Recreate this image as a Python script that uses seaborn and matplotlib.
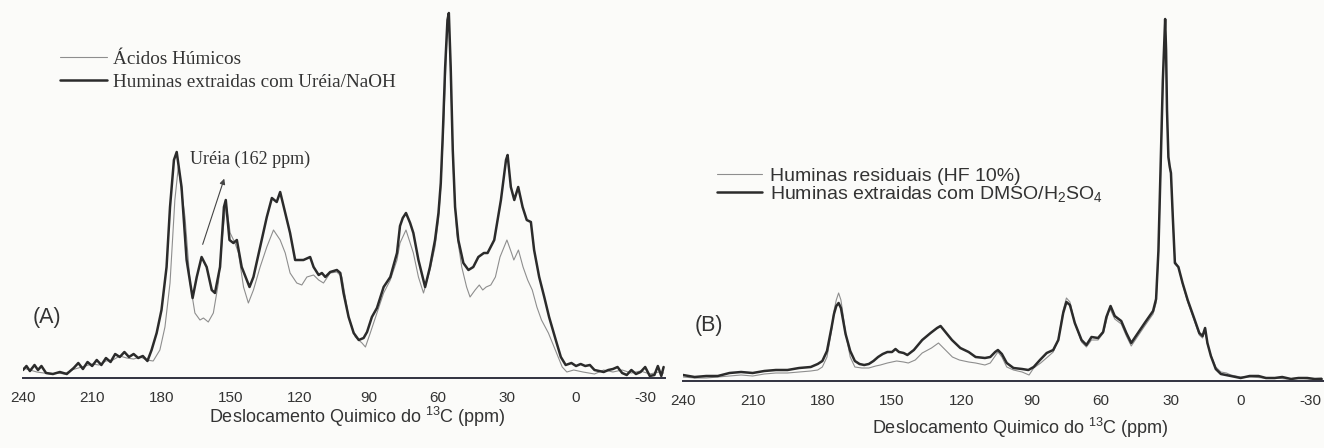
import numpy as np
import matplotlib
matplotlib.use("Agg")
import matplotlib.pyplot as plt
import seaborn as sns
from matplotlib.ticker import MultipleLocator

sns.set_style("white")
plt.rcParams['font.family'] = ['Liberation Sans', 'DejaVu Sans']
plt.rcParams['axes.unicode_minus'] = False
plt.rcParams['mathtext.fontset'] = 'custom'
plt.rcParams['mathtext.rm'] = 'Liberation Sans'
plt.rcParams['mathtext.it'] = 'Liberation Sans'

# ---- panel A: humic acids vs humins extracted with urea/NaOH ----
ppm_a_thick = [240, 238.5, 237, 235, 233.5, 232, 230, 227, 224, 221, 218, 216, 214, 212, 210,
               208, 206, 204, 202, 200, 198, 196, 194, 192, 190, 188, 186, 184.2, 182, 179.9,
               177.7, 176.2, 174.5, 173.3, 171.2, 169, 166.4, 164.6, 162.5, 160.3, 158.1, 156.7,
               154.5, 152.8, 152, 150.4, 148.7, 147.2, 145.1, 142.9, 141.7, 140, 137.1, 134.2,
               132, 129.9, 128.4, 126.2, 124.1, 121.9, 120.4, 118.3, 115.4, 113.9, 111.7, 110.3,
               108.8, 106.7, 103.8, 102.3, 100.9, 98.7, 96.5, 94.3, 92.2, 90.7, 88.6, 86.4, 83.5,
               80.6, 77.7, 76.4, 75.2, 73.8, 72, 70.6, 68.4, 65.5, 63.4, 61.2, 59.7, 58.7, 57.8,
               56.8, 55.8, 55.2, 54.4, 53.5, 52.5, 51.1, 48.9, 46.7, 44.6, 42.4, 40, 38.4,
               35.5, 32.6, 30.4, 29.7, 28.3, 26.8, 25.1, 23.2, 21.4, 19.6, 18.2, 16, 13.8,
               11.7, 8.8, 6.6, 4.5, 2, 0, -2, -4, -6, -8, -10, -12, -14, -16, -18, -20, -22,
               -24, -26, -28, -30, -32, -34, -35.5, -37, -38]
int_a_thick = [8, 12, 7, 13, 8, 12, 5, 4, 6, 4, 10, 15, 9, 16, 12,
               18, 13, 20, 16, 24, 21, 26, 21, 24, 20, 22, 17, 28, 45, 68,
               111, 171, 218, 226, 191, 118, 80, 101, 121, 111, 88, 85,
               111, 171, 178, 138, 135, 138, 111, 98, 91, 101, 131, 161,
               180, 176, 186, 165, 145, 118, 118, 118, 121, 111, 103, 105,
               101, 106, 108, 105, 85, 61, 45, 38, 40, 46, 61, 70, 91,
               101, 125, 152, 160, 165, 155, 145, 118, 91, 111, 138, 165, 195, 245,
               311, 358, 365, 311, 228, 171, 138, 115, 108, 111, 121, 125, 125,
               138, 178, 218, 223, 191, 178, 191, 171, 158, 156, 128, 101, 81,
               61, 38, 21, 13, 15, 12, 14, 12, 13, 8, 7, 6, 8, 9, 11, 5, 3,
               8, 4, 6, 11, 2, 3, 12, 2, 11]

ppm_a_thin = [240, 237, 234, 231, 228, 225, 222, 219, 216, 213, 210, 207, 204, 201, 198,
              195, 192, 189, 186.4, 183.5, 180.6, 178.4, 176.2, 174.1, 172.6, 169.7, 167.5,
              165.4, 163.2, 161.7, 159.6, 157.4, 155.2, 153.3, 151.9, 150.1, 148, 146.5, 144.3,
              142.2, 140, 137.1, 134.2, 131.3, 128.4, 126.2, 124.1, 121.2, 119, 116.8, 113.9,
              111.7, 109.6, 106.7, 103.8, 101.6, 98.7, 95.8, 92.9, 91.4, 89.3, 86.4, 83.5, 80.6,
              77.7, 76.4, 73.8, 70.6, 68.4, 66.2, 63.4, 61.2, 59.7, 58.7, 57.5, 56.1, 55.2, 54.4,
              53.2, 51.8, 49.6, 47.5, 46, 43.8, 42, 40.5, 39, 37, 35, 33, 30, 28, 27, 25, 23, 21,
              19, 17, 15, 12, 9, 6, 4, 1, -3, -8, -12, -16, -20, -24, -28, -32, -36, -38]
int_a_thin = [10, 8, 6, 5, 4, 5, 4, 8, 10, 12, 14, 13, 17, 18, 22,
              20, 19, 21, 18, 17, 28, 51, 95, 178, 211, 161, 95,
              65, 58, 60, 56, 65, 95, 145, 175, 145, 135, 125, 91,
              75, 88, 111, 131, 148, 138, 125, 105, 95, 93, 101, 103,
              98, 95, 105, 106, 101, 61, 41, 35, 31, 45, 65, 85, 98,
              118, 135, 148, 125, 101, 85, 108, 131, 158, 191, 251, 338, 358, 301,
              205, 145, 111, 91, 81, 88, 93, 88, 91, 93, 101, 121, 138, 125, 118, 128, 111, 98,
              88, 71, 58, 45, 28, 11, 6, 8, 6, 4, 8, 6, 8, 5, 7, 4, 6, 5]

# ---- panel B: residual humins vs humins extracted with DMSO/H2SO4 ----
ppm_b_thick = [240, 235, 230, 225, 220, 215, 210, 205, 200, 195, 190, 185, 182, 180, 178,
               176, 175, 174, 173, 172, 171, 170, 168, 166, 164, 162, 160, 158, 156, 154,
               152, 150, 148.5, 147, 145, 143.4, 140.6, 137, 133.4, 130.6, 129.1, 127, 124.2,
               120.6, 117, 114, 110, 107.7, 105.6, 104.4, 102.7, 100.6, 97.7, 94, 91.3, 89,
               86.3, 83.4, 80.6, 78.4, 76.3, 74.9, 73.4, 71.3, 68.4, 66.3, 64.1, 61.3, 59.1,
               57.7, 55.9, 54.1, 51.3, 49.1, 47, 44.1, 41.2, 37.6, 36.3, 35.3, 34.4, 33.4,
               32.4, 32.0, 31.6, 31.0, 30.4, 29.9, 29.1, 28.2, 26.7, 24.9, 22.7, 19.8, 17.7,
               16.3, 15.2, 14.2, 12.7, 10.6, 8.4, 4.1, -0.1, -4, -7.8, -11, -14.8, -18, -21.8,
               -25, -28.8, -32, -35]
int_b_thick = [6, 4, 5, 5, 8, 9, 8, 10, 11, 11, 13, 14, 17, 20, 30,
               54, 67, 75, 78, 73, 60, 47, 30, 20, 17, 16, 17, 20, 24, 27,
               29, 29, 32, 29, 28, 26, 31, 41, 48, 53, 55, 49, 41,
               33, 29, 24, 23, 24, 29, 31, 27, 18, 13, 12, 11, 14,
               21, 28, 31, 41, 68, 79, 76, 58, 41, 36, 44, 43, 49,
               64, 75, 65, 60, 48, 38, 48, 58, 70, 82, 130, 210, 300,
               362, 331, 271, 224, 214, 208, 164, 118, 114, 98, 81, 62, 48,
               45, 53, 38, 25, 12, 7, 5, 3, 5, 5, 3, 3, 4, 2,
               3, 3, 2, 2]

ppm_b_thin = [240, 235, 230, 225, 220, 215, 210, 205, 200, 195, 190, 185, 182, 180, 178,
              176, 175, 174, 173, 172, 171, 170, 168, 166, 163, 160, 157, 155, 152, 150,
              148, 145, 143, 140, 137, 133, 130, 127, 124, 121, 117, 114, 110, 107.7, 104.4,
              102.7, 100.6, 97.7, 94, 91, 89, 86, 83, 80.6, 78.4, 76.3, 74.9, 73.4, 71.3,
              68.4, 66.3, 64.1, 61.3, 59, 56.3, 54.1, 51.3, 49.1, 47, 44.1, 41.2, 37.6, 36.3,
              35.3, 34.4, 33.4, 32.4, 32.0, 31.6, 31.0, 30.4, 29.9, 29.1, 28.2, 26.7, 24.9,
              22.7, 19.8, 17.7, 16.3, 15.2, 14.2, 12.7, 10.6, 8.4, 6, 4.1, 0, -5, -10, -15,
              -20, -25, -30, -35]
int_b_thin = [4, 3, 3, 4, 5, 6, 5, 7, 8, 8, 9, 10, 11, 14, 24,
              51, 70, 81, 88, 81, 65, 48, 24, 14, 13, 13, 15, 16, 18, 19,
              20, 19, 18, 21, 28, 33, 38, 31, 24, 21, 19, 18, 16, 18, 29,
              24, 14, 11, 9, 6, 13, 18, 24, 29, 41, 71, 83, 79, 58,
              39, 34, 41, 41, 48, 73, 62, 57, 45, 35, 45, 55, 67, 78,
              126, 205, 296, 358, 328, 268, 222, 213, 206, 163, 120, 114, 97,
              79, 60, 46, 43, 50, 37, 26, 14, 9, 8, 6, 4, 4, 3, 3,
              2, 3, 2, 3]

labels_a = ['Ácidos Húmicos', 'Huminas extraidas com Uréia/NaOH']
labels_b = ['Huminas residuais (HF 10%)', r'Huminas extraidas com DMSO/H$_2$SO$_4$']
xlabel = r'Deslocamento Quimico do $^{13}$C (ppm)'
ticks = [240, 210, 180, 150, 120, 90, 60, 30, 0, -30]

thick_c = '#2b2b2b'
thin_c = '#8e8e8e'
axis_c = '#30313f'

W, H = 1324, 448
fig = plt.figure(figsize=(W / 100, H / 100), dpi=100)
fig.patch.set_facecolor('#fbfbf9')

axA = fig.add_axes([23 / W, (H - 378) / H, 642 / W, 378 / H])
axB = fig.add_axes([683 / W, (H - 381) / H, 641 / W, 381 / H])

for ax, (xt, yt, xk, yk, labs) in zip(
        [axA, axB],
        [(ppm_a_thin, int_a_thin, ppm_a_thick, int_a_thick, labels_a),
         (ppm_b_thin, int_b_thin, ppm_b_thick, int_b_thick, labels_b)]):
    sns.lineplot(x=xt, y=yt, ax=ax, color=thin_c, lw=0.8, sort=False,
                 estimator=None, label=labs[0])
    sns.lineplot(x=xk, y=yk, ax=ax, color=thick_c, lw=1.8, sort=False,
                 estimator=None, label=labs[1])
    ax.set_facecolor('none')
    for s in ['left', 'right', 'top']:
        ax.spines[s].set_visible(False)
    ax.spines['bottom'].set_color(axis_c)
    ax.spines['bottom'].set_linewidth(1.4)
    ax.set_xticks(ticks)
    ax.set_xticklabels([str(t) for t in ticks])
    ax.xaxis.set_minor_locator(MultipleLocator(15))
    ax.tick_params(axis='x', which='major', direction='out', length=4.5, width=1.1,
                   color=axis_c, labelsize=11, pad=5, labelcolor='#333333')
    ax.tick_params(axis='x', which='minor', direction='out', length=3.2, width=1.0,
                   color=axis_c)
    ax.set_yticks([])
    ax.set_xlabel('')
    ax.set_ylabel('')

axA.set_xlim(240, -38.6)
axA.set_ylim(0, 378)
axB.set_xlim(240, -36)
axB.set_ylim(0, 381)

# legends
legA = axA.legend(loc='upper left', bbox_to_anchor=(60 / W, 1 - 50.5 / H),
                  bbox_transform=fig.transFigure, frameon=False, borderpad=0,
                  borderaxespad=0, handlelength=2.45, handletextpad=0.3,
                  labelspacing=0.31,
                  prop={'family': 'Liberation Serif', 'size': 13.75})
for t in legA.get_texts():
    t.set_color('#333333')
legB = axB.legend(loc='upper left', bbox_to_anchor=(717 / W, 1 - 167.5 / H),
                  bbox_transform=fig.transFigure, frameon=False, borderpad=0,
                  borderaxespad=0, handlelength=2.3, handletextpad=0.4,
                  labelspacing=-0.05,
                  prop={'family': 'Liberation Sans', 'size': 14})
for t in legB.get_texts():
    t.set_color('#333333')

# annotation for the urea peak
axA.annotate('', xy=(152.3, 202), xytext=(162.4, 131),
             arrowprops=dict(arrowstyle='-|>', lw=0.8, color='#444444',
                             mutation_scale=8))
axA.text(167.5, 219, 'Uréia (162 ppm)', va='center', ha='left',
         family='Liberation Serif', size=13, color='#333333')

axA.text(235.7, 61, '(A)', va='center', ha='left', size=15.5, color='#333333')
axB.text(234.9, 56, '(B)', va='center', ha='left', size=15.5, color='#333333')

fig.text(357 / W, 1 - 423 / H, xlabel, ha='center', va='baseline', size=13,
         color='#333333')
fig.text(1020 / W, 1 - 434 / H, xlabel, ha='center', va='baseline', size=13,
         color='#333333')

fig.savefig('out.png', dpi=100, facecolor=fig.get_facecolor())
